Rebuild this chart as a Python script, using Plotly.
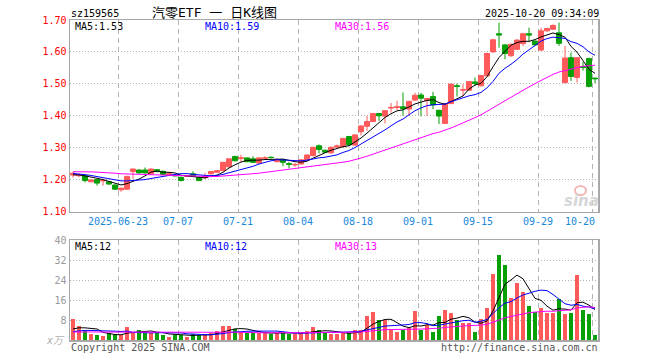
import numpy as np
import pandas as pd
import plotly.graph_objects as go

# ---------------- data ----------------
# trading days 2025-06-11 .. 2025-10-20 (National Day holiday excluded)
holidays = ["2025-10-01", "2025-10-02", "2025-10-03", "2025-10-06", "2025-10-07", "2025-10-08"]
days = [d for d in pd.bdate_range("2025-06-11", "2025-10-20") if d.strftime("%Y-%m-%d") not in holidays]

tick_dates = ["2025-06-23", "2025-07-07", "2025-07-21", "2025-08-04", "2025-08-18",
              "2025-09-01", "2025-09-15", "2025-09-29", "2025-10-20"]
tick_labels = ["2025-06-23", "07-07", "07-21", "08-04", "08-18", "09-01", "09-15", "09-29", "10-20"]

opens = [1.214, 1.212, 1.212, 1.193, 1.200, 1.196, 1.193, 1.183,
         1.168, 1.170, 1.225, 1.230, 1.230, 1.218, 1.231, 1.226, 1.214, 1.214,
         1.207, 1.210, 1.218, 1.207, 1.206, 1.218, 1.223, 1.228, 1.240, 1.272,
         1.266, 1.268, 1.265, 1.252, 1.267, 1.270, 1.256, 1.262, 1.250, 1.246,
         1.249, 1.262, 1.275, 1.306, 1.292, 1.284, 1.302, 1.303, 1.335, 1.308,
         1.350, 1.367, 1.382, 1.407, 1.399, 1.424, 1.426, 1.428, 1.421, 1.449,
         1.465, 1.448, 1.460, 1.417, 1.376, 1.438, 1.494, 1.480, 1.480, 1.506,
         1.494, 1.525, 1.600, 1.657, 1.622, 1.588, 1.608, 1.626, 1.657, 1.634,
         1.606, 1.666, 1.671, 1.660, 1.504, 1.582, 1.520, 1.554, 1.579, 1.518]
highs = [1.224, 1.220, 1.214, 1.200, 1.201, 1.202, 1.195, 1.185,
         1.175, 1.212, 1.235, 1.232, 1.238, 1.235, 1.233, 1.228, 1.220, 1.216,
         1.209, 1.214, 1.226, 1.209, 1.221, 1.227, 1.230, 1.256, 1.266, 1.275,
         1.278, 1.269, 1.273, 1.270, 1.273, 1.272, 1.267, 1.264, 1.256, 1.252,
         1.264, 1.279, 1.303, 1.310, 1.294, 1.304, 1.310, 1.331, 1.337, 1.342,
         1.370, 1.399, 1.409, 1.409, 1.418, 1.440, 1.447, 1.473, 1.447, 1.472,
         1.472, 1.456, 1.475, 1.419, 1.440, 1.501, 1.501, 1.499, 1.509, 1.520,
         1.528, 1.598, 1.641, 1.692, 1.625, 1.626, 1.640, 1.660, 1.676, 1.636,
         1.676, 1.676, 1.686, 1.692, 1.619, 1.598, 1.584, 1.569, 1.582, 1.519]
lows = [1.206, 1.208, 1.191, 1.192, 1.181, 1.181, 1.184, 1.167,
        1.162, 1.168, 1.202, 1.219, 1.219, 1.215, 1.223, 1.214, 1.211, 1.210,
        1.194, 1.208, 1.208, 1.195, 1.202, 1.216, 1.221, 1.226, 1.238, 1.257,
        1.256, 1.254, 1.252, 1.250, 1.262, 1.266, 1.254, 1.242, 1.235, 1.240,
        1.247, 1.260, 1.273, 1.282, 1.283, 1.280, 1.296, 1.301, 1.306, 1.306,
        1.338, 1.353, 1.380, 1.384, 1.376, 1.410, 1.418, 1.400, 1.400, 1.447,
        1.398, 1.400, 1.421, 1.374, 1.374, 1.437, 1.460, 1.462, 1.478, 1.494,
        1.492, 1.523, 1.598, 1.613, 1.577, 1.585, 1.606, 1.619, 1.632, 1.620,
        1.603, 1.663, 1.669, 1.619, 1.501, 1.509, 1.504, 1.541, 1.489, 1.502]
closes = [1.220, 1.216, 1.197, 1.199, 1.189, 1.198, 1.186, 1.170,
          1.173, 1.210, 1.233, 1.221, 1.221, 1.233, 1.225, 1.216, 1.218, 1.212,
          1.197, 1.212, 1.210, 1.197, 1.210, 1.225, 1.228, 1.254, 1.265, 1.259,
          1.268, 1.256, 1.254, 1.268, 1.268, 1.269, 1.262, 1.254, 1.248, 1.247,
          1.262, 1.277, 1.301, 1.294, 1.286, 1.301, 1.305, 1.329, 1.309, 1.340,
          1.368, 1.382, 1.407, 1.400, 1.416, 1.426, 1.428, 1.422, 1.445, 1.464,
          1.455, 1.454, 1.434, 1.399, 1.438, 1.499, 1.492, 1.482, 1.507, 1.501,
          1.526, 1.595, 1.638, 1.653, 1.595, 1.624, 1.637, 1.657, 1.653, 1.622,
          1.666, 1.673, 1.683, 1.627, 1.581, 1.523, 1.582, 1.551, 1.492, 1.516]
volumes = [8.3, 5.7, 3.5, 2.5, 2.1, 1.5, 2.8, 2.0,
           2.1, 5.3, 2.9, 4.1, 2.9, 2.9, 2.9, 2.1, 1.3, 2.1,
           2.1, 1.3, 2.3, 2.1, 2.1, 2.8, 3.7, 5.7, 5.7, 4.5,
           3.2, 2.9, 2.9, 2.8, 2.8, 2.5, 2.8, 2.9, 2.5, 2.3,
           2.9, 3.7, 5.1, 4.1, 2.8, 2.5, 2.5, 2.9, 2.7, 4.1,
           4.1, 9.7, 11.3, 8.1, 8.0, 4.5, 3.3, 4.0, 4.9, 11.7,
           4.1, 6.0, 3.3, 9.7, 12.1, 10.7, 8.1, 6.8, 6.9, 3.3,
           8.5, 12.9, 26.5, 34.1, 30.0, 16.9, 22.7, 19.1, 13.7, 11.1,
           13.0, 11.0, 11.0, 16.5, 10.5, 10.9, 26.0, 12.0, 10.5, 2.1]

# closes / volumes before the visible window (estimated from where the MA lines start)
prior_closes = [1.205, 1.208, 1.212, 1.215, 1.214, 1.218, 1.222,
                1.226, 1.230, 1.236, 1.240, 1.238, 1.242, 1.240, 1.236, 1.238, 1.234, 1.232, 1.230, 1.232,
                1.226, 1.222, 1.225, 1.220, 1.222,
                1.218, 1.212, 1.214, 1.211]
prior_volumes = [3.5, 2.8, 3.0, 3.6, 2.6, 3.2, 2.9, 3.4, 2.7, 3.1, 3.3, 2.8, 3.0, 3.5, 2.9, 3.2, 3.0, 3.3, 2.8, 3.4,
                 2.6, 2.2, 2.5, 2.3, 2.4,
                 3.2, 3.6, 3.3, 3.6]

# ---------------- derived ----------------
n = len(days)
idx = list(range(n))
date_str = [d.strftime("%Y-%m-%d") for d in days]
tick_pos = [date_str.index(d) - 0.5 for d in tick_dates]
# the last label is nudged left so it stays inside the frame
tick_text = tick_labels[:-1] + [tick_labels[-1] + "\u00a0" * 4]


def ma(prior, vals, w):
    s = pd.Series(list(prior) + list(vals)).rolling(w).mean().to_numpy()
    return s[len(prior):]


ma5, ma10, ma30 = (ma(prior_closes, closes, w) for w in (5, 10, 30))
vma5, vma10, vma30 = (ma(prior_volumes, volumes, w) for w in (5, 10, 30))

UP, DOWN = "#ff5a5a", "#07a007"
vol_colors = [UP if c >= o else DOWN for o, c in zip(opens, closes)]
MONO = "DejaVu Sans Mono"
GRID = "#b4b4b4"
FRAME = "#a8a8a8"

fig = go.Figure()
fig.add_trace(go.Candlestick(
    x=idx, open=opens, high=highs, low=lows, close=closes,
    increasing=dict(line=dict(color=UP, width=1), fillcolor=UP),
    decreasing=dict(line=dict(color=DOWN, width=1), fillcolor=DOWN),
    whiskerwidth=0, hoverinfo="skip", xaxis="x", yaxis="y"))
for arr, col in ((ma5, "#000000"), (ma10, "#0000ff"), (ma30, "#ff00ff")):
    fig.add_trace(go.Scatter(x=idx, y=arr, mode="lines", line=dict(color=col, width=1),
                             hoverinfo="skip", xaxis="x", yaxis="y"))
fig.add_trace(go.Bar(x=idx, y=volumes, marker=dict(color=vol_colors, line=dict(width=0)),
                     width=0.82, hoverinfo="skip", xaxis="x2", yaxis="y2"))
for arr, col in ((vma5, "#000000"), (vma10, "#0000ff"), (vma30, "#ff00ff")):
    fig.add_trace(go.Scatter(x=idx, y=arr, mode="lines", line=dict(color=col, width=1),
                             hoverinfo="skip", xaxis="x2", yaxis="y2"))

L, R, T, B = 70, 62, 20, 20
W, H = 660, 360
PW, PH = W - L - R, H - T - B


def px(x):
    return (x - L) / PW


def py(y):
    return (H - B - y) / PH


xcommon = dict(range=[-0.5, n - 0.5], tickmode="array", tickvals=tick_pos,
               showgrid=True, gridcolor=GRID, griddash="5px,4px", gridwidth=1,
               showline=True, mirror=True, linecolor=FRAME, linewidth=1.5,
               zeroline=False, ticks="", fixedrange=True, automargin=False)
ycommon = dict(showgrid=True, gridcolor=GRID, griddash="1px,2px", gridwidth=1,
               showline=True, mirror=True, linecolor=FRAME, linewidth=1.5,
               zeroline=False, ticks="", fixedrange=True, automargin=False)
fig.update_layout(
    width=W, height=H, margin=dict(l=L, r=R, t=T, b=B, autoexpand=False),
    paper_bgcolor="white", plot_bgcolor="white", showlegend=False,
    xaxis=dict(**xcommon, anchor="y", ticktext=tick_text, rangeslider=dict(visible=False),
               tickfont=dict(family=MONO, size=10, color="#1a88d8")),
    xaxis2=dict(**xcommon, anchor="y2", showticklabels=False, matches="x"),
    yaxis=dict(**ycommon, domain=[py(211.5), 1], range=[1.10, 1.70], tickmode="array",
               tickvals=[1.1, 1.2, 1.3, 1.4, 1.5, 1.6, 1.7],
               ticktext=["1.10", "1.20", "1.30", "1.40", "1.50", "1.60", "1.70"],
               tickfont=dict(family=MONO, size=10, color="#ff0000")),
    yaxis2=dict(**ycommon, domain=[0, py(240.3)], range=[0, 40], tickmode="array",
                tickvals=[8, 16, 24, 32, 40], ticktext=["8", "16", "24", "32", "40"],
                tickfont=dict(family=MONO, size=10, color="#9a9a9a")),
    bargap=0, boxgap=0.08, boxgroupgap=0.08,
)


def txt(x, y, s, color="#000000", size=10, anchor="left", family=MONO, **kw):
    fig.add_annotation(x=px(x), y=py(y), xref="paper", yref="paper", text=s,
                       showarrow=False, xanchor=anchor, yanchor="middle",
                       font=dict(family=family, size=size, color=color), **kw)


txt(69, 13.5, "sz159565")
txt(150, 13, "汽零ETF 一 日K线图", size=13, family=MONO + ", Noto Sans CJK SC")
txt(601, 13.5, "2025-10-20 09:34:09", anchor="right")

txt(73, 26, f"MA5:{ma5[-1]:.2f}")
txt(203, 26, f"MA10:{ma10[-1]:.2f}", color="#0000ff")
txt(333, 26, f"MA30:{ma30[-1]:.2f}", color="#ff00ff")
txt(73, 246, f"MA5:{vma5[-1]:.0f}")
txt(203, 246, f"MA10:{vma10[-1]:.0f}", color="#0000ff")
txt(333, 246, f"MA30:{vma30[-1]:.0f}", color="#ff00ff")

txt(67, 340, "<i>x万</i>", color="#b0b0b0", size=10, anchor="right", family=MONO + ", Noto Sans CJK SC")
txt(69, 347, "Copyright 2025 SINA.COM", color="#555555")
txt(600, 347, "http://finance.sina.com.cn", color="#555555", anchor="right")

# sina watermark
txt(581, 201, "<b><i>sina</i></b>", color="#d6d6d6", size=15, anchor="center", family="DejaVu Sans")
fig.add_shape(type="circle", xref="paper", yref="paper",
              x0=px(575), x1=px(586), y0=py(195), y1=py(186),
              line=dict(color="#f2b8b8", width=2))

fig.write_html("out.html", config={"displayModeBar": False, "staticPlot": True},
               post_script="document.body.style.margin='0px';document.body.style.padding='0px';")
